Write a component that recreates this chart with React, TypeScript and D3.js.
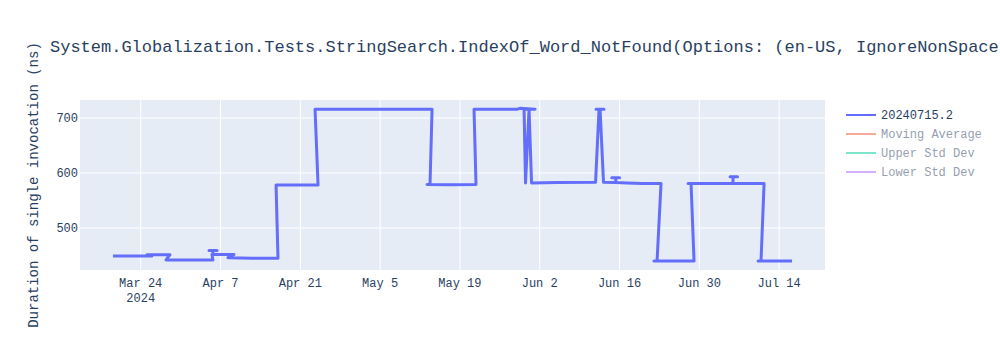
import React from "react";
import * as d3 from "d3";

const TITLE = "System.Globalization.Tests.StringSearch.IndexOf_Word_NotFound(Options: (en-US, IgnoreNonSpace, False))";
const Y_TITLE = "Duration of single invocation (ns)";

// Data points in recorded order (dates UTC)
const dates: string[] = [
  "2024-03-19T03:00", "2024-03-22T12:00", "2024-03-25T23:00",
  "2024-03-25T02:30", "2024-03-27T12:00", "2024-03-29T03:30",
  "2024-03-28T10:30", "2024-04-01T12:00", "2024-04-05T16:00",
  "2024-04-05T12:00", "2024-04-05T16:00", "2024-04-05T16:00", "2024-04-04T23:30", "2024-04-06T09:20",
  "2024-04-05T16:00", "2024-04-05T16:00", "2024-04-09T09:00",
  "2024-04-08T07:40", "2024-04-12T12:00", "2024-04-17T02:00",
  "2024-04-16T17:50", "2024-04-24T02:40",
  "2024-04-23T14:00", "2024-05-01T00:00", "2024-05-08T00:00", "2024-05-14T02:40",
  "2024-05-13T18:00", "2024-05-13T05:30", "2024-05-17T12:00", "2024-05-21T19:40",
  "2024-05-21T11:20", "2024-05-25T00:00", "2024-05-29T00:30", "2024-05-29T13:00", "2024-06-01T04:20",
  "2024-05-30T06:00", "2024-05-30T12:10", "2024-05-31T03:00", "2024-05-31T13:30",
  "2024-06-05T00:00", "2024-06-11T19:00",
  "2024-06-12T09:40", "2024-06-11T21:00", "2024-06-13T06:40", "2024-06-12T14:00",
  "2024-06-13T04:30", "2024-06-15T08:00",
  "2024-06-15T08:00", "2024-06-14T15:10", "2024-06-16T00:00", "2024-06-15T08:00",
  "2024-06-15T08:00", "2024-06-17T07:00", "2024-06-20T00:00", "2024-06-23T06:40",
  "2024-06-22T14:00", "2024-06-22T01:00", "2024-06-25T12:00", "2024-06-29T01:40",
  "2024-06-28T13:00", "2024-06-28T00:30", "2024-07-02T00:00", "2024-07-05T21:40",
  "2024-07-05T21:40", "2024-07-05T09:20", "2024-07-06T16:50", "2024-07-05T21:40",
  "2024-07-05T21:40", "2024-07-11T08:30",
  "2024-07-10T19:40", "2024-07-10T07:10", "2024-07-13T12:00", "2024-07-16T06:20",
];
const values: number[] = [
  449, 449, 449,
  451.5, 451.5, 451.5,
  442, 442, 442,
  452, 452, 459, 459, 459,
  459, 452, 452,
  446, 445, 445,
  578, 578,
  716, 716, 716, 716,
  579, 579, 578.5, 579,
  716, 716, 716, 717.5, 716,
  716, 582, 716, 582,
  582.5, 583,
  716, 716, 716, 716,
  583, 582.5,
  591.5, 591.5, 591.5, 591.5,
  582.5, 582, 581, 581,
  440, 440, 440, 440,
  581, 581, 581, 581,
  593, 593, 593, 593,
  581, 581,
  440, 440, 440, 440,
];

const Y_TICKS: number[] = [500, 600, 700];
const X_TICKS: string[] = ["2024-03-24", "2024-04-07", "2024-04-21", "2024-05-05", "2024-05-19", "2024-06-02", "2024-06-16", "2024-06-30", "2024-07-14"];
const X_TICK_LABELS: string[] = ["Mar 24", "Apr 7", "Apr 21", "May 5", "May 19", "Jun 2", "Jun 16", "Jun 30", "Jul 14"];
const X_DOMAIN: string[] = ["2024-03-13T08:24", "2024-07-22T01:00"];
const Y_DOMAIN: number[] = [423.6, 732.7];

const LEGEND_NAMES: string[] = ["20240715.2", "Moving Average", "Upper Std Dev", "Lower Std Dev"];
const LEGEND_COLORS: string[] = ["#636efa", "#EF553B", "#00cc96", "#ab63fa"];
const LEGEND_VISIBLE: boolean[] = [true, false, false, false];

const W = 1000, H = 350;
const M = { l: 80, r: 175, t: 100, b: 80 };
const FONT = "'Liberation Mono', 'Courier New', monospace";
const TXT = "#2a3f5f";

export default function App() {
  const parseT = d3.utcParse("%Y-%m-%dT%H:%M");
  const parseD = d3.utcParse("%Y-%m-%d");
  const x = d3.scaleUtc()
    .domain(X_DOMAIN.map((s) => parseT(s) as Date))
    .range([M.l, W - M.r]);
  const y = d3.scaleLinear().domain(Y_DOMAIN).range([H - M.b, M.t]);
  const pts: [Date, number][] = dates.map((d, i) => [parseT(d) as Date, values[i]]);
  const line = d3.line<[Date, number]>().x((d) => x(d[0])).y((d) => y(d[1]));
  const pw = W - M.l - M.r;
  const ph = H - M.t - M.b;

  return (
    <svg width={W} height={H} style={{ position: "absolute", left: 0, top: 0, background: "#fff" }} fontFamily={FONT}>
      <rect x={M.l} y={M.t} width={pw} height={ph} fill="#e5ecf6" />
      {X_TICKS.map((t, i) => {
        const px = x(parseD(t) as Date);
        return (
          <g key={t}>
            <line x1={px} x2={px} y1={M.t} y2={M.t + ph} stroke="#fff" strokeWidth={1} />
            <text x={px} y={H - M.b + 17} textAnchor="middle" fontSize={12} fill={TXT}>{X_TICK_LABELS[i]}</text>
            {i === 0 && (
              <text x={px} y={H - M.b + 32} textAnchor="middle" fontSize={12} fill={TXT}>2024</text>
            )}
          </g>
        );
      })}
      {Y_TICKS.map((t) => (
        <g key={t}>
          <line x1={M.l} x2={M.l + pw} y1={y(t)} y2={y(t)} stroke="#fff" strokeWidth={1} />
          <text x={M.l - 2} y={y(t) + 4} textAnchor="end" fontSize={12} fill={TXT}>{t}</text>
        </g>
      ))}
      <defs>
        <clipPath id="plotclip">
          <rect x={M.l} y={M.t} width={pw} height={ph} />
        </clipPath>
      </defs>
      <path d={line(pts) || ""} fill="none" stroke="#636efa" strokeWidth={3} strokeLinejoin="round" clipPath="url(#plotclip)" />
      <text x={50} y={52} fontSize={17} fill={TXT}>{TITLE}</text>
      <text transform={`translate(38, ${M.t + ph / 2}) rotate(-90)`} textAnchor="middle" fontSize={14} fill={TXT}>{Y_TITLE}</text>
      {LEGEND_NAMES.map((n, i) => {
        const ly = 115 + i * 19;
        return (
          <g key={n} opacity={LEGEND_VISIBLE[i] ? 1 : 0.5}>
            <line x1={846} x2={876} y1={ly} y2={ly} stroke={LEGEND_COLORS[i]} strokeWidth={2} />
            <text x={881} y={ly + 4} fontSize={12} fill={TXT}>{n}</text>
          </g>
        );
      })}
    </svg>
  );
}
